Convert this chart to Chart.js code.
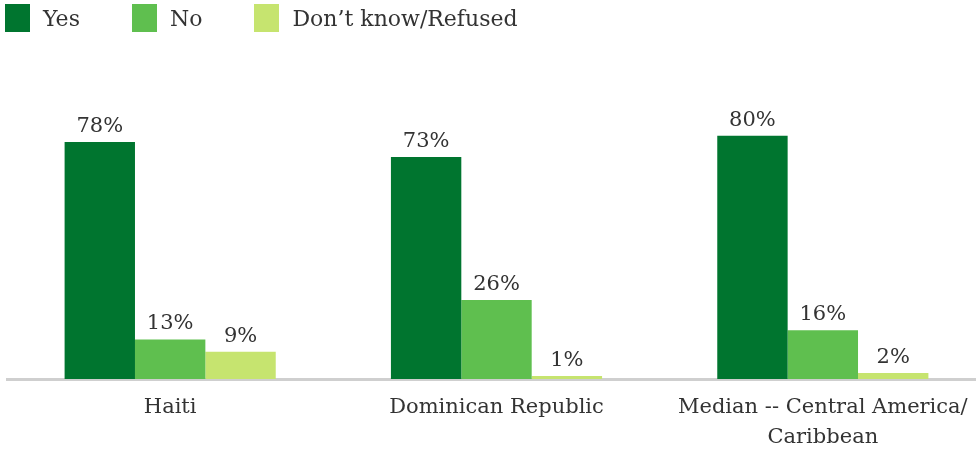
<!DOCTYPE html>
<html>
<head>
<meta charset="utf-8">
<script src="https://cdn.jsdelivr.net/npm/chart.js@4"></script>
<style>
  html, body { margin: 0; padding: 0; background: #fff; overflow: hidden; }
  .wrap { position: relative; width: 986px; height: 450px; }
  .legend { position: absolute; left: 5px; top: 4px; display: flex; font-family: 'DejaVu Serif', serif; font-size: 22px; color: #333; }
  .legend .item { display: flex; align-items: center; margin-right: 52px; }
  .legend .box { width: 25px; height: 28px; margin-right: 13px; }
</style>
</head>
<body>
<div class="wrap">
  <div class="legend" id="legend"></div>
  <canvas id="chart" width="986" height="450"></canvas>
</div>
<script>
const categories = ['Haiti', 'Dominican Republic', ['Median -- Central America/', 'Caribbean']]
const seriesNames = ['Yes', 'No', 'Don\u2019t know/Refused']
const yes = [78, 73, 80]
const no = [13, 26, 16]
const dontKnow = [9, 1, 2]
const colors = ['#00752f', '#5fbf4f', '#c6e46f']

const font = 'DejaVu Serif'
const ctx = document.getElementById('chart').getContext('2d')

// legend in plain html, built from the series names
const legend = document.getElementById('legend')
seriesNames.forEach((name, i) => {
    const item = document.createElement('div')
    item.className = 'item'
    item.innerHTML = `<span class="box" style="background:${colors[i]}"></span><span>${name}</span>`
    legend.appendChild(item)
})

// percent labels above each bar
const valueLabels = {
    id: 'valueLabels',
    afterDatasetsDraw(chart) {
        const c = chart.ctx
        c.save()
        c.font = `21px "${font}"`
        c.fillStyle = '#333'
        c.textAlign = 'center'
        c.textBaseline = 'alphabetic'
        chart.data.datasets.forEach((ds, i) => {
            chart.getDatasetMeta(i).data.forEach((bar, j) => {
                c.fillText(ds.data[j] + '%', bar.x, bar.y - 10)
            })
        })
        c.restore()
    }
}

const data = {
    labels: categories,
    datasets: [
        { label: seriesNames[0], data: yes, backgroundColor: colors[0] },
        { label: seriesNames[1], data: no, backgroundColor: colors[1] },
        { label: seriesNames[2], data: dontKnow, backgroundColor: colors[2] }
    ]
}

new Chart(ctx, {
    type: 'bar',
    data: data,
    plugins: [valueLabels],
    options: {
        responsive: false,
        animation: false,
        layout: { padding: { left: 7, top: 75, right: 0, bottom: 0 } },
        datasets: { bar: { barPercentage: 1, categoryPercentage: 0.647 } },
        plugins: {
            legend: { display: false },
            tooltip: { enabled: false }
        },
        scales: {
            x: {
                grid: { display: false, drawTicks: false },
                border: { color: '#cfcfcf', width: 3 },
                ticks: {
                    color: '#333',
                    padding: 13,
                    maxRotation: 0,
                    autoSkip: false,
                    font: { family: font, size: 21, lineHeight: 1.45 }
                },
                afterFit(scale) { scale.height = 71 }
            },
            y: {
                display: false,
                min: 0,
                max: 100
            }
        }
    }
})
</script>
</body>
</html>
